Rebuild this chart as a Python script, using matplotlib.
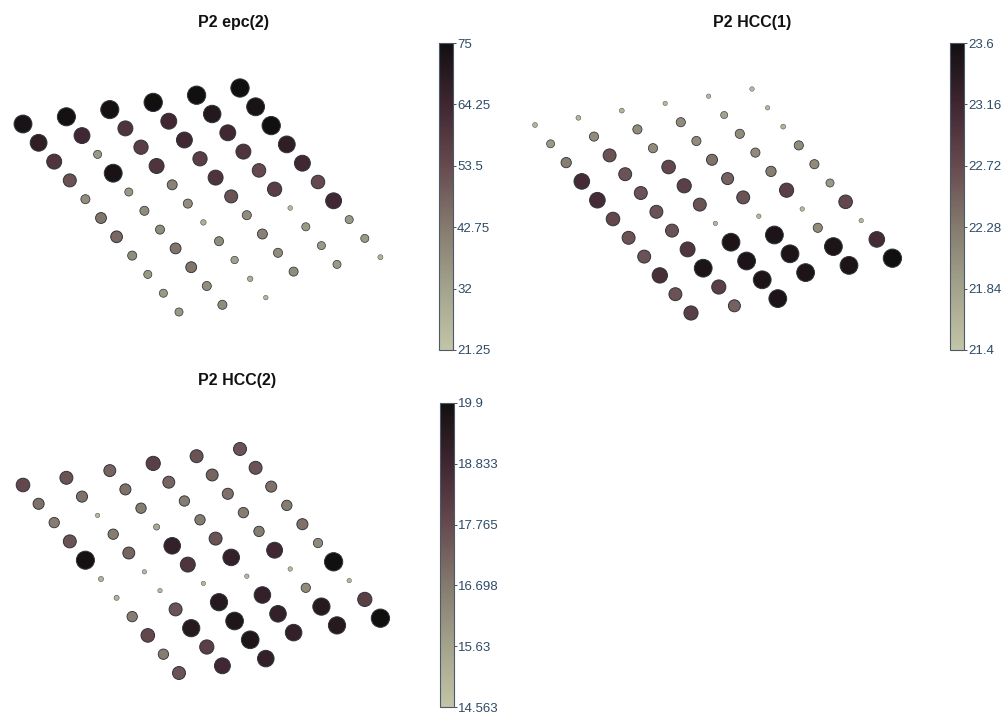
import numpy as np
import matplotlib
matplotlib.use("Agg")
import matplotlib.pyplot as plt
from matplotlib.colors import LinearSegmentedColormap, Normalize

plt.rcParams['font.family'] = ['Liberation Sans', 'DejaVu Sans']

# ---- data: 6 grid columns (i) x 11 grid rows (j) per panel ----
n_cols = 6
n_rows = 11

epc2 = [
    [73, 68, 60, 52, 38, 44, 47, 38, 35, 35, 35],
    [74, 64, 35, 73, 35, 38, 38, 44, 44, 38, 38],
    [74, 60, 57, 60, 41, 38, 28, 38, 33, 28, 26],
    [75, 64, 64, 57, 60, 52, 38, 41, 38, 38, 21.25],
    [75, 71, 64, 60, 54, 57, 26, 35, 35, 35, 21.25],
    [75, 73, 75, 68, 64, 54, 64, 35, 35, 27, 21.25],
]
hcc1 = [
    [21.62, 21.95, 22.25, 23.1, 23.1, 22.75, 22.65, 22.65, 23.05, 22.65, 22.85],
    [21.62, 22.1, 22.65, 22.65, 22.65, 22.65, 22.65, 22.98, 23.5, 22.85, 22.5],
    [21.62, 22.1, 22.1, 22.75, 22.85, 22.65, 21.58, 23.5, 23.5, 23.5, 23.5],
    [21.58, 22.1, 22.1, 22.36, 22.5, 22.65, 21.58, 23.5, 23.5, 23.5, 21.4],
    [21.58, 21.84, 22.1, 22.1, 22.25, 22.85, 21.58, 22.1, 23.5, 23.5, 21.4],
    [21.58, 21.58, 21.62, 22.1, 22.1, 21.96, 22.75, 21.58, 23.1, 23.6, 21.4],
]
hcc2 = [
    [17.85, 16.9, 16.65, 17.6, 19.8, 15.15, 15.15, 16.65, 17.85, 16.65, 17.6],
    [17.6, 16.9, 15.0, 16.65, 17.2, 15.0, 15.0, 17.6, 19.4, 18.1, 18.8],
    [17.2, 16.9, 16.65, 15.4, 19.1, 18.4, 15.0, 19.4, 19.6, 19.6, 19.1],
    [18.1, 17.2, 16.65, 16.65, 17.6, 19.1, 15.0, 19.1, 19.1, 19.1, 14.563],
    [17.6, 17.2, 16.9, 16.65, 16.65, 18.8, 15.0, 16.3, 19.4, 19.4, 14.563],
    [17.6, 17.6, 16.9, 16.65, 16.9, 16.3, 19.9, 15.0, 18.1, 19.9, 14.563],
]

titles = ["P2 epc(2)", "P2 HCC(1)", "P2 HCC(2)"]
ranges = [(21.25, 75.0), (21.4, 23.6), (14.563, 19.9)]
tick_labels = [
    ["21.25", "32", "42.75", "53.5", "64.25", "75"],
    ["21.4", "21.84", "22.28", "22.72", "23.16", "23.6"],
    ["14.563", "15.63", "16.698", "17.765", "18.833", "19.9"],
]

# ---- style / layout ----
W, H = 1006, 716
cmap = LinearSegmentedColormap.from_list(
    "khaki_mauve_black",
    [(0.0, (0.76, 0.77, 0.65)),
     (0.2, (0.64, 0.64, 0.55)),
     (0.4, (0.52, 0.48, 0.43)),
     (0.6, (0.40, 0.29, 0.31)),
     (0.8, (0.25, 0.15, 0.19)),
     (1.0, (0.07, 0.06, 0.06))])
label_color = "#2d4a66"
edge_color = (0.18, 0.20, 0.23)

# grid projection (pixel units per grid step)
col_step = (43.4, 7.2)     # per column i: right and up
row_step = (15.6, -18.8)   # per row j: right and down

fig = plt.figure(figsize=(W / 100, H / 100), dpi=100)
fig.patch.set_facecolor("white")


def px_axes(x0, y0, x1, y1):
    return fig.add_axes([x0 / W, 1 - y1 / H, (x1 - x0) / W, (y1 - y0) / H])


panels = [
    dict(data=epc2, box=(0, 40, 420, 350), origin=(23, 124), cbar=(439, 43, 453, 350), title=(234, 22)),
    dict(data=hcc1, box=(512, 40, 932, 350), origin=(535, 125), cbar=(950, 43, 964, 350), title=(752, 22)),
    dict(data=hcc2, box=(0, 400, 420, 712), origin=(23, 485), cbar=(440, 403, 454, 707), title=(237, 381)),
]

ii, jj = np.meshgrid(np.arange(n_cols), np.arange(n_rows), indexing="ij")
X = ii * col_step[0] + jj * row_step[0]
Y = ii * col_step[1] + jj * row_step[1]

for k, p in enumerate(panels):
    vals = np.array(p["data"], dtype=float)
    vmin, vmax = ranges[k]
    t = np.clip((vals - vmin) / (vmax - vmin), 0, 1)
    d_px = np.where(t > 0, 1.3 + 17.0 * t ** 0.67, 0.0)
    sizes = (d_px * 0.72) ** 2
    lws = np.minimum(0.06 * d_px, 0.7)

    bx0, by0, bx1, by1 = p["box"]
    ox, oy = p["origin"]
    ax = px_axes(bx0, by0, bx1, by1)
    ax.set_xlim(bx0 - ox, bx1 - ox)
    ax.set_ylim(oy - by1, oy - by0)
    ax.axis("off")
    norm = Normalize(vmin=vmin, vmax=vmax)
    sc = ax.scatter(X.ravel(), Y.ravel(), s=sizes.ravel(), c=vals.ravel(),
                    cmap=cmap, norm=norm, linewidths=lws.ravel(),
                    edgecolors=[edge_color])

    cx0, cy0, cx1, cy1 = p["cbar"]
    cax = px_axes(cx0, cy0, cx1, cy1)
    cb = fig.colorbar(sc, cax=cax)
    ticks = np.linspace(vmin, vmax, 6)
    cb.set_ticks(ticks)
    cb.set_ticklabels(tick_labels[k])
    cb.outline.set_edgecolor("#4a5a6a")
    cb.outline.set_linewidth(0.8)
    cax.tick_params(length=2, width=0.6, color="#333333", pad=1,
                    labelsize=9.5, labelcolor=label_color)

    tx, ty = p["title"]
    fig.text(tx / W, 1 - ty / H, titles[k], ha="center", va="center",
             fontsize=11.5, fontweight="bold", color="#111111")

fig.savefig("out.png", dpi=100, facecolor="white")
